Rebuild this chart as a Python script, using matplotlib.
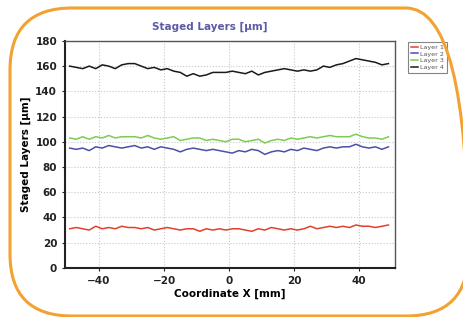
import matplotlib.pyplot as plt
import numpy as np
from matplotlib.patches import FancyBboxPatch

# x positions (mm)
x = np.arange(-49, 50, 2)

layer1 = [31, 32, 31, 30, 33, 31, 32, 31, 33, 32,
          32, 31, 32, 30, 31, 32, 31, 30, 31, 31,
          29, 31, 30, 31, 30, 31, 31, 30, 29, 31,
          30, 32, 31, 30, 31, 30, 31, 33, 31, 32,
          33, 32, 33, 32, 34, 33, 33, 32, 33, 34]
layer2 = [95, 94, 95, 93, 96, 95, 97, 96, 95, 96,
          97, 95, 96, 94, 96, 95, 94, 92, 94, 95,
          94, 93, 94, 93, 92, 91, 93, 92, 94, 93,
          90, 92, 93, 92, 94, 93, 95, 94, 93, 95,
          96, 95, 96, 96, 98, 96, 95, 96, 94, 96]
layer3 = [103, 102, 104, 102, 104, 103, 105, 103, 104, 104,
          104, 103, 105, 103, 102, 103, 104, 101, 102, 103,
          103, 101, 102, 101, 100, 102, 102, 100, 101, 102,
          99, 101, 102, 101, 103, 102, 103, 104, 103, 104,
          105, 104, 104, 104, 106, 104, 103, 103, 102, 104]
layer4 = [160, 159, 158, 160, 158, 161, 160, 158, 161, 162,
          162, 160, 158, 159, 157, 158, 156, 155, 152, 154,
          152, 153, 155, 155, 155, 156, 155, 154, 156, 153,
          155, 156, 157, 158, 157, 156, 157, 156, 157, 160,
          159, 161, 162, 164, 166, 165, 164, 163, 161, 162]

layers = [layer1, layer2, layer3, layer4]
labels = ['Layer 1', 'Layer 2', 'Layer 3', 'Layer 4']
colors = ['#e0402c', '#4a50a8', '#7ccc52', '#1a1a1a']

fig = plt.figure(figsize=(4.63, 3.17), dpi=100)
fig.patch.set_facecolor('white')

# rounded orange frame (in inches so the corners stay round)
frame = FancyBboxPatch((0.10, 0.01), 4.58, 3.08,
                       boxstyle='round,pad=0,rounding_size=0.62',
                       transform=fig.dpi_scale_trans, fill=False,
                       edgecolor='#f3a232', linewidth=2.2, zorder=0)
fig.patches.append(frame)

ax = fig.add_axes([0.140, 0.155, 0.713, 0.716])
for y, lab, c in zip(layers, labels, colors):
    ax.plot(x, y, color=c, lw=1.1, label=lab)

ax.set_xlim(-50.5, 51)
ax.set_ylim(0, 180)
ax.set_xticks([-40, -20, 0, 20, 40])
ax.set_yticks(range(0, 181, 20))
ax.grid(True, color='#c8c8c8', linestyle=':', lw=0.8)
for s in ax.spines.values():
    s.set_color('#555555')
    s.set_linewidth(1.0)
ax.spines['left'].set_color('#222222')
ax.spines['bottom'].set_color('#222222')
ax.spines['left'].set_linewidth(1.5)
ax.spines['bottom'].set_linewidth(1.5)
ax.tick_params(labelsize=7.5, length=2, colors='#222222')
for t in ax.get_xticklabels() + ax.get_yticklabels():
    t.set_fontweight('bold')

ax.set_title('Staged Layers [\u00b5m]', fontsize=7.5, color='#5a5aa8',
             fontweight='bold', pad=8, x=0.44)
ax.set_xlabel('Coordinate X [mm]', fontsize=7.5, fontweight='bold', labelpad=2)
ax.set_ylabel('Staged Layers [\u00b5m]', fontsize=7.5, fontweight='bold', labelpad=3)

leg = ax.legend(loc='upper left', bbox_to_anchor=(1.03, 1.01), fontsize=4.6,
                frameon=True, fancybox=False, handlelength=1.2,
                handletextpad=0.3, borderpad=0.4, labelspacing=0.2)
leg.get_frame().set_edgecolor('#666666')
leg.get_frame().set_linewidth(0.8)
for t in leg.get_texts():
    t.set_color('#555555')

fig.savefig('out.png', dpi=100)
